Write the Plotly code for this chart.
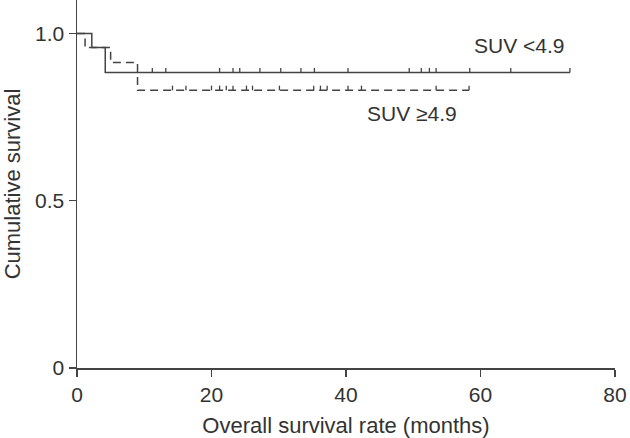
import plotly.graph_objects as go

# Kaplan-Meier step data (months, cumulative survival)
low_times = [0, 2.2, 4.2, 73.3]
low_surv = [1.0, 0.958, 0.883, 0.883]
low_censor = [11.2, 13.2, 21.2, 23.2, 24.2, 27.2, 30.3, 33.3, 35.3, 40.3,
              49.4, 51.2, 52.4, 53.4, 58.4, 64.5, 73.3]

high_times = [0, 1.2, 5.0, 9.0, 58.3]
high_surv = [1.0, 0.958, 0.913, 0.830, 0.830]
high_censor = [14.2, 16.2, 20.0, 21.2, 22.2, 23.2, 25.2, 26.1, 30.1, 35.2,
               36.2, 37.2, 40.3, 42.3, 53.4, 58.3]

x_ticks = [0, 20, 40, 60, 80]
y_ticks = [0, 0.5, 1.0]
y_tick_labels = ["0", "0.5", "1.0"]

LINE = "#444444"
FONT = "Liberation Sans, Arial, sans-serif"
TICK_H = 0.014


def surv_at(t, times, surv):
    s = surv[0]
    for ti, si in zip(times, surv):
        if ti <= t:
            s = si
    return s


def censor_segments(ctimes, times, surv):
    xs, ys = [], []
    for t in ctimes:
        s = surv_at(t, times, surv)
        xs += [t, t, None]
        ys += [s, s + TICK_H, None]
    return xs, ys


fig = go.Figure()

fig.add_trace(go.Scatter(x=high_times, y=high_surv, mode="lines", line_shape="hv",
                         line=dict(color=LINE, width=1.5, dash="8px,5px"),
                         showlegend=False, hoverinfo="skip"))
cx, cy = censor_segments(high_censor, high_times, high_surv)
fig.add_trace(go.Scatter(x=cx, y=cy, mode="lines", line=dict(color=LINE, width=1.3),
                         showlegend=False, hoverinfo="skip"))

fig.add_trace(go.Scatter(x=low_times, y=low_surv, mode="lines", line_shape="hv",
                         line=dict(color=LINE, width=1.5),
                         showlegend=False, hoverinfo="skip"))
cx, cy = censor_segments(low_censor, low_times, low_surv)
fig.add_trace(go.Scatter(x=cx, y=cy, mode="lines", line=dict(color=LINE, width=1.3),
                         showlegend=False, hoverinfo="skip"))

fig.add_annotation(x=65.7, y=0.963, text="SUV <4.9", showarrow=False,
                   xanchor="center", yanchor="middle",
                   font=dict(family=FONT, size=21, color="#333333"))
fig.add_annotation(x=49.8, y=0.762, text="SUV ≥4.9", showarrow=False,
                   xanchor="center", yanchor="middle",
                   font=dict(family=FONT, size=21, color="#333333"))

fig.update_layout(
    width=630, height=438,
    margin=dict(l=77, r=15, t=0, b=70),
    plot_bgcolor="white", paper_bgcolor="white",
    font=dict(family=FONT, size=21, color="#333333"),
    xaxis=dict(range=[0, 80], tickvals=x_ticks, showgrid=False, zeroline=False,
               automargin=False,
               showline=True, linecolor=LINE, linewidth=1.5,
               ticks="outside", ticklen=7, tickcolor=LINE, tickwidth=1.5,
               title=dict(text="Overall survival rate (months)", standoff=14,
                          font=dict(size=22))),
    yaxis=dict(range=[0, 1.1], tickvals=y_ticks, ticktext=y_tick_labels,
               showgrid=False, zeroline=False, automargin=False,
               showline=True, linecolor=LINE, linewidth=1.5,
               ticks="outside", ticklen=7, tickcolor=LINE, tickwidth=1.5,
               title=dict(text="Cumulative survival", standoff=14,
                          font=dict(size=22))),
)

fig.write_html("out.html",
               config={"displayModeBar": False, "staticPlot": True},
               post_script="document.body.style.margin='0';"
                           "document.body.style.overflow='hidden';")
